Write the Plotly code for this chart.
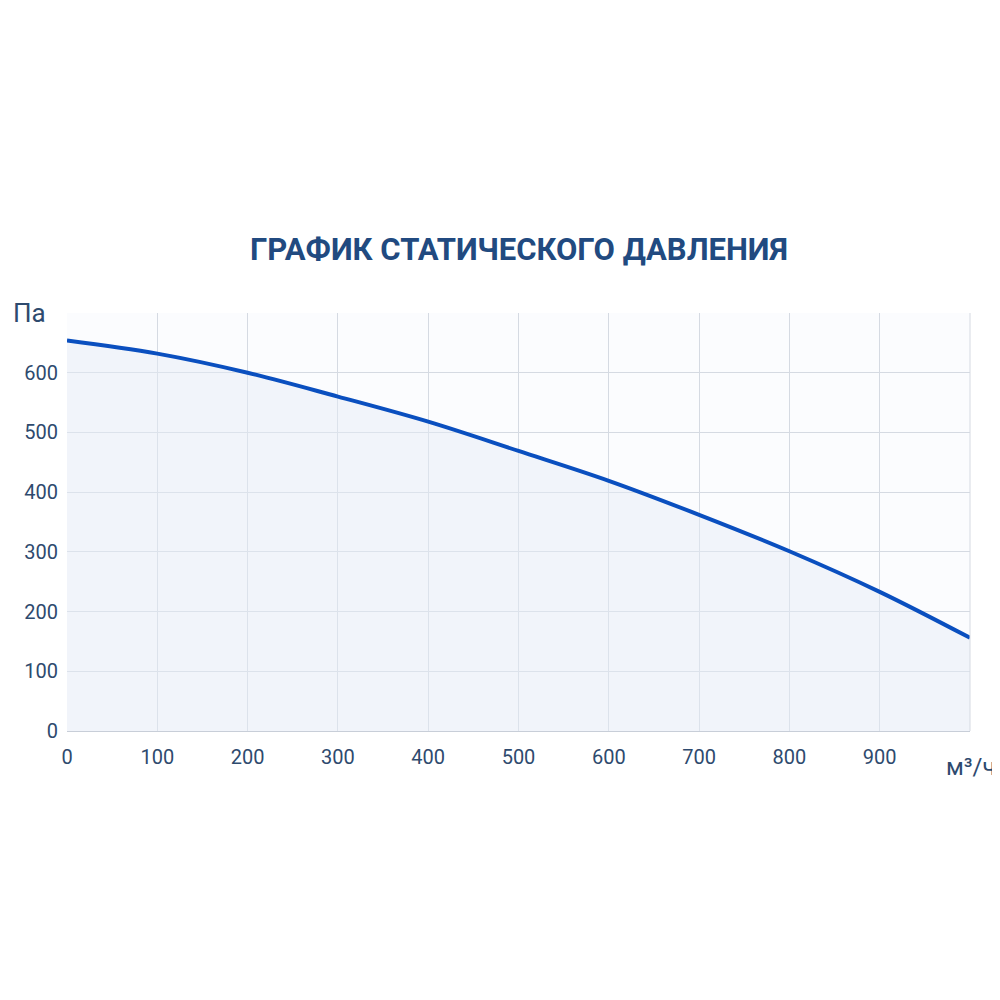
import plotly.graph_objects as go

flow = [0, 100, 200, 300, 400, 500, 600, 700, 800, 900, 1000]
pressure = [654, 632, 600, 560, 518, 469, 419, 362, 301, 233, 156]
x_ticks = [0, 100, 200, 300, 400, 500, 600, 700, 800, 900]
y_ticks = [0, 100, 200, 300, 400, 500, 600]

fig = go.Figure()
fig.add_trace(go.Scatter(x=flow, y=pressure, mode="lines", line=dict(color="#0a4fbf", width=4, shape="spline"),
                         fill="tozeroy", fillcolor="rgba(228,236,247,0.45)", hoverinfo="skip"))
fig.update_layout(
    width=1000, height=1000, paper_bgcolor="white", plot_bgcolor="#fbfcfe",
    margin=dict(l=59, r=38, t=305, b=277), showlegend=False,
    font=dict(family="Roboto, Arial, sans-serif", color="#2e4a6e", size=20),
    annotations=[
        dict(text="<b>ГРАФИК СТАТИЧЕСКОГО ДАВЛЕНИЯ</b>", xref="paper", yref="paper", x=0.5, y=1, yshift=64,
             showarrow=False, font=dict(size=31, color="#214a80"), xanchor="center", yanchor="middle"),
        dict(text="Па", xref="paper", yref="paper", x=0, y=1, xshift=-38, showarrow=False,
             font=dict(size=26, color="#2e4a6e"), xanchor="center", yanchor="middle"),
        dict(text="м³/ч", xref="paper", yref="paper", x=1, y=0, yshift=-36, xshift=28, showarrow=False,
             font=dict(size=24, color="#2e4a6e"), xanchor="right", yanchor="middle"),
    ],
)
fig.update_xaxes(range=[0, 1000], tickvals=x_ticks, showgrid=True, gridcolor="#d5dae2", zeroline=False,
                 showline=True, linecolor="#c8ced8", ticks="", ticklabelstandoff=8, fixedrange=True)
fig.update_yaxes(range=[0, 700], tickvals=y_ticks + [700], ticktext=[str(v) for v in y_ticks] + [""],
                 showgrid=True, gridcolor="#d5dae2", zeroline=False, showline=False, ticks="",
                 ticklabelstandoff=8, fixedrange=True)
fig.add_shape(type="line", xref="paper", yref="paper", x0=1, x1=1, y0=0, y1=1, line=dict(color="#d5dae2", width=1))
fig.write_html("out.html")
